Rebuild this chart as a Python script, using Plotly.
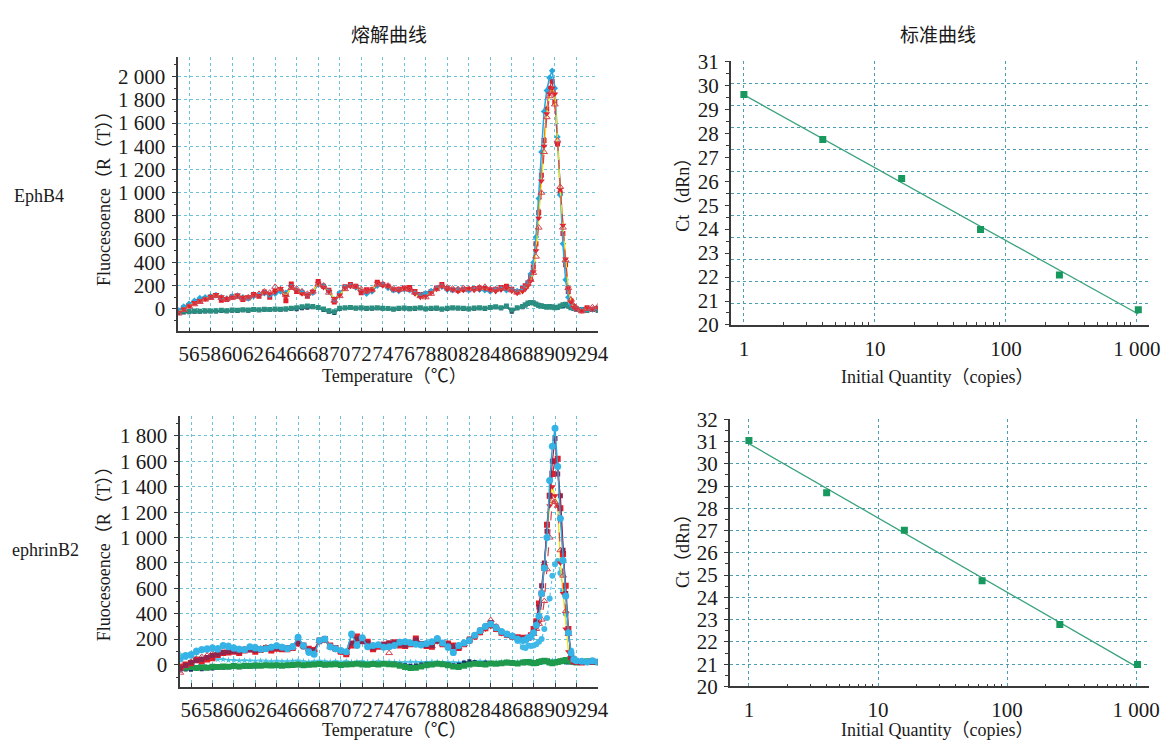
import numpy as np
import plotly.graph_objects as go

# ---------------- data ----------------
temps = [55.0, 55.5, 56.0, 56.5, 57.0, 57.5, 58.0, 58.5, 59.0, 59.5,
         60.0, 60.5, 61.0, 61.5, 62.0, 62.5, 63.0, 63.5, 64.0, 64.5,
         65.0, 65.5, 66.0, 66.5, 67.0, 67.5, 68.0, 68.5, 69.0, 69.5,
         70.0, 70.5, 71.0, 71.5, 72.0, 72.5, 73.0, 73.5, 74.0, 74.5,
         75.0, 75.5, 76.0, 76.5, 77.0, 77.5, 78.0, 78.5, 79.0, 79.5,
         80.0, 80.5, 81.0, 81.5, 82.0, 82.5, 83.0, 83.5, 84.0, 84.5,
         85.0, 85.5, 86.0, 86.5, 87.0,
         87.25, 87.5, 87.75, 88.0, 88.25, 88.5, 88.75, 89.0, 89.25, 89.5,
         89.75, 90.0, 90.25, 90.5, 90.75, 91.0, 91.25, 91.5, 91.75, 92.0,
         92.5, 93.0, 93.5, 94.0]

# EphB4 melting curves
eph_red_sq = [-20, 10, 30, 50, 75, 90, 100, 115, 75, 80,
              105, 110, 80, 95, 125, 110, 145, 100, 150, 160,
              70, 215, 150, 140, 110, 145, 235, 195, 160, 60,
              130, 190, 210, 195, 140, 165, 165, 230, 210, 195,
              165, 170, 180, 185, 150, 125, 130, 150, 180, 210,
              175, 165, 160, 170, 165, 175, 180, 175, 165, 170,
              185, 195, 170, 150, 175,
              200, 225, 280, 360, 560, 830, 1150, 1450, 1720, 1900,
              1960, 1780, 1420, 1000, 650, 380, 150, 70, 20, 0,
              -15, 10, -5, 5]
eph_cyan = [-10, 20, 45, 70, 95, 100, 110, 120, 100, 90,
            110, 115, 100, 90, 110, 120, 135, 120, 130, 150,
            140, 190, 160, 150, 120, 140, 210, 200, 150, 80,
            140, 185, 200, 185, 150, 130, 150, 200, 205, 180,
            160, 155, 170, 160, 135, 120, 135, 155, 175, 190,
            165, 160, 170, 165, 160, 170, 165, 160, 150, 170,
            170, 160, 165, 155, 170,
            190, 230, 300, 400, 620, 950, 1350, 1700, 1880, 1990,
            2050, 1900, 1480, 980, 560, 250, 100, 40, 10, 0,
            -10, 0, -5, 5]
eph_red_tri = [-40, -10, 20, 40, 60, 80, 95, 110, 95, 85,
               95, 105, 90, 100, 115, 130, 150, 140, 190, 170,
               120, 180, 175, 150, 130, 150, 210, 200, 140, 70,
               110, 170, 200, 190, 170, 150, 165, 210, 215, 200,
               175, 165, 170, 165, 140, 110, 100, 130, 170, 200,
               185, 175, 170, 180, 175, 170, 185, 190, 170, 165,
               180, 175, 160, 140, 170,
               190, 215, 250, 310, 450, 700, 1000, 1350, 1650, 1830,
               1880, 1760, 1450, 1050, 700, 420, 180, 80, 30, 10,
               -20, 0, 15, 20]
eph_yellow = [-30, 0, 25, 55, 70, 85, 110, 125, 105, 90,
              100, 120, 100, 105, 120, 115, 140, 130, 145, 175,
              110, 190, 155, 130, 120, 150, 220, 185, 150, 90,
              120, 180, 195, 190, 145, 150, 160, 220, 200, 190,
              170, 160, 175, 170, 130, 100, 110, 140, 170, 195,
              170, 165, 150, 160, 175, 160, 170, 175, 160, 150,
              165, 180, 155, 135, 150,
              170, 200, 240, 320, 500, 780, 1100, 1400, 1680, 1850,
              1900, 1850, 1420, 1030, 720, 430, 180, 60, 15, 0,
              -15, 5, 0, 10]
eph_ntc_navy = [-35, -30, -28, -25, -25, -22, -20, -22, -18, -20,
                -15, -18, -12, -15, -10, -12, -8, -10, -5, -8,
                -5, 0, -3, 5, 10, 15, 8, -10, -25, -35,
                0, 5, 8, 3, 5, 0, 2, 5, 3, 0,
                -5, 0, 3, -2, 0, 5, -3, 0, 2, -5,
                0, 5, 3, 0, -3, 2, 5, 0, 10, 15,
                5, 20, -25, 5, 15,
                30, 45, 50, 55, 45, 35, 30, 25, 20, 15,
                20, 15, 10, 20, 25, 30, 20, 10, 0, -5,
                -10, -15, -10, -15]
eph_ntc_teal = [-25, -20, -22, -18, -20, -15, -18, -15, -12, -15,
                -10, -12, -8, -10, -5, -8, -3, -5, 0, -3,
                2, 5, 10, 18, 25, 20, 12, 0, -15, -25,
                5, 10, 12, 8, 10, 5, 8, 10, 5, 3,
                0, 5, 8, 3, 5, 10, 2, 5, 8, 0,
                5, 10, 8, 5, 2, 8, 10, 5, 12, 18,
                10, 25, -10, 10, 20,
                35, 50, 55, 50, 40, 30, 25, 20, 15, 20,
                15, 10, 15, 25, 35, 40, 25, 10, 5, 0,
                -5, -10, -5, -10]

# ephrinB2 melting curves
efn_red_sq = [-15, 0, 10, 35, 25, 40, 50, 75, 90, 95,
              100, 90, 110, 120, 100, 115, 130, 110, 125, 120,
              120, 130, 165, 150, 125, 115, 190, 200, 150, 130,
              100, 80, 150, 220, 195, 180, 120, 140, 155, 165,
              175, 150, 145, 160, 205, 160, 145, 140, 190, 160,
              165, 150, 130, 160, 190, 220, 255, 285, 310, 280,
              250, 235, 220, 215, 210,
              205, 210, 230, 280, 340, 480, 560, 760, 1100, 1330,
              1500, 1600, 1620, 1230, 870, 620, 280, 60, 25, 20,
              15, 20, 25, 20]
efn_maroon = [-30, -5, 15, 30, 40, 55, 70, 80, 95, 100,
              105, 100, 120, 115, 110, 125, 120, 125, 130, 125,
              130, 140, 170, 140, 115, 110, 180, 195, 140, 120,
              105, 95, 170, 200, 180, 170, 130, 150, 160, 170,
              170, 160, 150, 165, 195, 165, 150, 150, 185, 165,
              160, 140, 140, 165, 200, 230, 270, 300, 330, 295,
              255, 240, 225, 210, 200,
              200, 205, 225, 260, 330, 450, 620, 800, 1050, 1330,
              1600, 1780, 1500, 1330, 900, 560, 250, 60, 30, 20,
              20, 15, 20, 15]
efn_yellow = [-20, 5, 20, 40, 50, 60, 75, 85, 100, 105,
              110, 100, 115, 125, 110, 120, 125, 115, 130, 125,
              125, 135, 160, 145, 120, 110, 185, 190, 145, 125,
              95, 85, 160, 210, 190, 175, 125, 145, 150, 160,
              170, 155, 150, 160, 195, 160, 145, 145, 180, 160,
              160, 145, 135, 160, 185, 215, 250, 280, 300, 275,
              245, 230, 215, 205, 200,
              200, 200, 215, 250, 290, 330, 560, 780, 1000, 1250,
              1400, 1330, 1250, 800, 560, 280, 100, 40, 25, 20,
              20, 15, 20, 15]
efn_red_tri = [-65, -10, 20, 45, 60, 70, 90, 95, 105, 110,
               115, 105, 120, 130, 115, 125, 135, 120, 130, 130,
               130, 135, 170, 145, 120, 115, 185, 190, 140, 120,
               100, 90, 160, 215, 185, 175, 125, 140, 150, 90,
               165, 155, 150, 160, 200, 160, 145, 145, 185, 160,
               160, 145, 135, 160, 195, 230, 265, 300, 350, 300,
               260, 240, 225, 210, 205,
               200, 205, 215, 240, 280, 320, 354, 500, 750, 1000,
               1290, 1280, 1250, 900, 700, 420, 240, 72, 30, 20,
               20, 15, 20, 15]
efn_cyan = [50, 70, 76, 100, 116, 125, 129, 120, 150, 140,
            129, 120, 116, 140, 130, 120, 125, 135, 147, 135,
            125, 140, 215, 150, 100, 80, 190, 200, 140, 125,
            110, 100, 240, 150, 210, 140, 150, 155, 135, 140,
            150, 175, 180, 170, 160, 155, 165, 180, 205, 170,
            140, 95, 150, 170, 190, 230, 265, 300, 320, 290,
            260, 240, 225, 200, 190,
            195, 210, 220, 250, 310, 380, 560, 760, 1000, 1450,
            1720, 1860, 1560, 1150, 820, 540, 250, 90, 40, 30,
            25, 20, 30, 20]
efn_cyan_late = [40, 60, 80, 110, 120, 115, 135, 130, 145, 150,
                 135, 125, 120, 135, 140, 125, 130, 140, 150, 140,
                 130, 145, 210, 140, 90, 85, 185, 195, 135, 120,
                 105, 95, 230, 160, 200, 145, 140, 150, 140, 135,
                 155, 180, 175, 165, 165, 150, 160, 175, 200, 165,
                 130, 90, 145, 165, 185, 225, 270, 305, 320, 280,
                 250, 230, 215, 185, 135,
                 130, 150, 145, 150, 160, 180, 200, 280, 367, 520,
                 700, 790, 815, 720, 580, 400, 251, 110, 50, 30,
                 25, 20, 25, 20]
efn_ntc_green = [-20, -25, -20, -28, -22, -25, -18, -20, -15, -18,
                 -12, -15, -10, -12, -8, -10, -5, -8, -5, -10,
                 -5, -3, 0, -5, -2, 0, 3, -2, 0, 2,
                 -3, 0, 2, 5, 0, -2, 3, 0, 5, 2,
                 0, -10, -20, -28, -25, -15, -5, 0, 5, 2,
                 -5, -15, -20, -10, 0, 5, 3, 0, 8, 5,
                 10, 15, 12, 8, 15,
                 18, 20, 15, 10, 12, 20, 25, 30, 25, 15,
                 10, 15, 20, 25, 30, 35, 30, 25, 20, 15,
                 20, 25, 20, 18]
efn_ntc_navy = [-45, -40, -42, -35, -38, -30, -32, -28, -25, -22,
                -20, -22, -18, -15, -16, -12, -10, -12, -8, -10,
                -8, -5, -6, -3, -5, 0, -2, -5, -3, 0,
                -2, 2, 0, 3, 5, 2, 0, 3, 5, 3,
                5, 0, -5, -10, -8, 0, 5, 3, 8, 5,
                2, -5, 0, 15, 25, 20, 10, 15, 10, 5,
                8, 10, 5, 10, 12,
                15, 12, 10, 8, 10, 15, 20, 25, 20, 18,
                15, 20, 25, 30, 25, 20, 15, 20, 25, 20,
                15, 20, 25, 15]
efn_ntc_cyan = [80, 70, 60, 55, 50, 45, 45, 40, 40, 35,
                35, 30, 32, 30, 28, 30, 28, 25, 28, 25,
                25, 28, 30, 25, 22, 25, 28, 25, 22, 25,
                22, 25, 20, 22, 25, 20, 22, 25, 20, 22,
                20, 18, 20, 22, 20, 18, 20, 22, 20, 18,
                20, 18, 15, 18, 20, 22, 25, 22, 20, 18,
                20, 22, 18, 20, 22,
                20, 22, 25, 20, 22, 25, 20, 22, 25, 28,
                30, 25, 22, 25, 28, 30, 28, 25, 22, 20,
                22, 25, 22, 20]

# standard curves
quantity = [1, 4, 16, 64, 256, 1024]
eph_ct = [29.62, 27.74, 26.11, 23.98, 22.08, 20.64]
efn_ct = [31.05, 28.70, 27.02, 24.75, 22.78, 20.99]

temp_ticks = [56, 58, 60, 62, 64, 66, 68, 70, 72, 74, 76, 78, 80, 82, 84, 86, 88, 90, 92, 94]
eph_fluo_ticks = [0, 200, 400, 600, 800, 1000, 1200, 1400, 1600, 1800, 2000]
efn_fluo_ticks = [0, 200, 400, 600, 800, 1000, 1200, 1400, 1600, 1800]
fluo_labels = {0: "0", 200: "200", 400: "400", 600: "600", 800: "800", 1000: "1 000",
               1200: "1 200", 1400: "1 400", 1600: "1 600", 1800: "1 800", 2000: "2 000"}
qty_ticks = [1, 10, 100, 1000]
qty_labels = ["1", "10", "100", "1 000"]

# ---------------- styling ----------------
W, H = 1175, 751
SERIF = "Liberation Serif, Noto Sans CJK SC, serif"
CJK = "Noto Sans CJK SC, Noto Sans CJK JP, sans-serif"
GRID = "#6cc2d8"
GRID2 = "#4a9db3"
AX = "#3a3a3a"
TXT = "#1a1a1a"


def hx(p):
    return p / W


def vy(p):
    return 1 - p / H


fig = go.Figure()

top_series = [
    (eph_ntc_navy, dict(color="#1e3b5c", width=1.4), dict(symbol="square", size=4, color="#1e3b5c")),
    (eph_ntc_teal, dict(color="#2a8f80", width=1.4), dict(symbol="square", size=5, color="#2a8f80")),
    (eph_red_sq, dict(color="#e11f2b", width=1.1), dict(symbol="square", size=5, color="#e11f2b")),
    (eph_cyan, dict(color="#27a7de", width=1.5), dict(symbol="diamond", size=5, color="#27a7de")),
    (eph_yellow, dict(color="#efe21a", width=1.3), dict(symbol="triangle-down", size=6, color="#e2202a")),
    (eph_red_tri, dict(color="#d3434f", width=1.2, dash="dash"), dict(symbol="triangle-up-open", size=6, color="#d3434f")),
]
for vals, ln, mk in top_series:
    assert len(vals) == len(temps)
    fig.add_trace(go.Scatter(x=temps, y=vals, mode="lines+markers", line=ln, marker=mk,
                             xaxis="x", yaxis="y", showlegend=False, hoverinfo="skip"))

bottom_series = [
    (efn_ntc_cyan, dict(color="#46c1e8", width=1.2), dict(symbol="star", size=5, color="#46c1e8")),
    (efn_ntc_navy, dict(color="#1c2d6b", width=1.4), dict(symbol="square", size=4, color="#1c2d6b")),
    (efn_ntc_green, dict(color="#1f9a4c", width=1.8), dict(symbol="square", size=6, color="#1f9a4c")),
    (efn_cyan_late, dict(color="#49bfe8", width=1.1, dash="dot"), dict(symbol="circle", size=6, color="#40b9e8")),
    (efn_yellow, dict(color="#efe21a", width=1.3), dict(symbol="triangle-down", size=6, color="#e2202a")),
    (efn_red_tri, dict(color="#d3434f", width=1.2, dash="dash"), dict(symbol="triangle-up-open", size=6, color="#d3434f")),
    (efn_red_sq, dict(color="#e11f2b", width=1.4), dict(symbol="square", size=6, color="#e11f2b")),
    (efn_maroon, dict(color="#8f2650", width=1.2), dict(symbol="square", size=5, color="#8f2650")),
    (efn_cyan, dict(color="#2aa9e0", width=1.4), dict(symbol="circle", size=7, color="#35b3e6")),
]
for vals, ln, mk in bottom_series:
    assert len(vals) == len(temps)
    fig.add_trace(go.Scatter(x=temps, y=vals, mode="lines+markers", line=ln, marker=mk,
                             xaxis="x2", yaxis="y2", showlegend=False, hoverinfo="skip"))

# standard curves
for ct, xa, ya in [(eph_ct, "x3", "y3"), (efn_ct, "x4", "y4")]:
    lq = np.log10(quantity)
    slope, icpt = np.polyfit(lq, ct, 1)
    xs = [quantity[0], quantity[-1]]
    ys = [icpt + slope * np.log10(v) for v in xs]
    fig.add_trace(go.Scatter(x=xs, y=ys, mode="lines", line=dict(color="#3aa37c", width=1.3),
                             xaxis=xa, yaxis=ya, showlegend=False, hoverinfo="skip"))
    fig.add_trace(go.Scatter(x=quantity, y=ct, mode="markers",
                             marker=dict(symbol="square", size=7, color="#17985e"),
                             xaxis=xa, yaxis=ya, showlegend=False, hoverinfo="skip"))

# empty trace to activate grid overlay axis of the top standard curve
fig.add_trace(go.Scatter(x=[], y=[], xaxis="x3", yaxis="y5", showlegend=False, hoverinfo="skip"))

tickfont = dict(family=SERIF, size=21, color=TXT)

melt_x = dict(range=[55, 94], tickmode="array", tickvals=temp_ticks, ticktext=[str(t) for t in temp_ticks],
              tickangle=0,
              showline=True, linecolor=AX, linewidth=1.5, ticks="inside", ticklen=4, tickcolor=AX,
              showgrid=True, gridcolor=GRID, griddash="dot", gridwidth=1, zeroline=False,
              tickfont=tickfont, ticklabelstandoff=3)


def melt_y(rng, tv, dom, anchor):
    return dict(range=rng, domain=dom, anchor=anchor, tickmode="array", tickvals=tv,
                ticktext=[fluo_labels[v] for v in tv], showline=True, linecolor=AX, linewidth=1.5,
                ticks="outside", ticklen=5, tickcolor=AX,
                minor=dict(tickvals=list(range(-100, rng[1], 100)), ticks="outside", ticklen=3, tickcolor=AX),
                showgrid=True, gridcolor=GRID, griddash="dot", gridwidth=1, zeroline=False,
                tickfont=tickfont, ticklabelstandoff=2)


def std_x(rng, dom, anchor):
    return dict(type="log", range=rng, domain=dom, anchor=anchor, tickmode="array",
                tickvals=qty_ticks, ticktext=qty_labels, showline=True, linecolor=AX, linewidth=1.5,
                ticks="", showgrid=True, gridcolor=GRID2, griddash="dot", gridwidth=1, zeroline=False,
                minor=dict(tickvals=[2, 3, 4, 5, 6, 7, 8, 9, 20, 30, 40, 50, 60, 70, 80, 90,
                                     200, 300, 400, 500, 600, 700, 800, 900],
                           ticks="inside", ticklen=3, tickcolor=AX, showgrid=False),
                tickfont=tickfont, ticklabelstandoff=4)


def std_y(rng, dom, anchor, grid):
    return dict(range=rng, domain=dom, anchor=anchor, tickmode="linear", tick0=20, dtick=1,
                showline=True, linecolor=AX, linewidth=1.5, ticks="outside", ticklen=4, tickcolor=AX,
                minor=dict(dtick=0.5, tick0=20, ticks="outside", ticklen=3, tickcolor=AX),
                showgrid=grid, gridcolor=GRID2, griddash="dot", gridwidth=1, zeroline=False,
                tickfont=tickfont, ticklabelstandoff=2)


fig.update_layout(
    width=W, height=H, autosize=False,
    margin=dict(l=0, r=0, t=0, b=0),
    paper_bgcolor="white", plot_bgcolor="white",
    xaxis=dict(melt_x, domain=[hx(180), hx(603.5)], anchor="y"),
    yaxis=melt_y([-194, 2164], eph_fluo_ticks, [vy(330), vy(47)], "x"),
    xaxis2=dict(melt_x, domain=[hx(182), hx(603.5)], anchor="y2"),
    yaxis2=melt_y([-175, 1960], efn_fluo_ticks, [vy(697), vy(417)], "x2"),
    xaxis3=std_x([-0.1, 3.093], [hx(737.7), hx(1160)], "y3"),
    yaxis3=std_y([20, 31], [vy(323.3), vy(51)], "x3", False),
    yaxis5=dict(range=[0, 12], overlaying="y3", anchor="x3", tickmode="linear", tick0=0, dtick=1,
                showgrid=True, gridcolor=GRID2, griddash="dot", gridwidth=1, showline=False,
                showticklabels=False, ticks="", zeroline=False),
    xaxis4=std_x([-0.148, 3.10], [hx(736.7), hx(1160)], "y4"),
    yaxis4=std_y([20, 32], [vy(696.7), vy(420.7)], "x4", True),
)

ann = []


def text(x, y, s, size, family=SERIF, angle=0, xanchor="center"):
    ann.append(dict(x=hx(x), y=vy(y), xref="paper", yref="paper", text=s, showarrow=False,
                    font=dict(family=family, size=size, color=TXT), textangle=angle,
                    xanchor=xanchor, yanchor="middle"))


text(393, 22, "熔解曲线", 19, family=CJK)
text(947, 22, "标准曲线", 19, family=CJK)
text(12, 190, "EphB4", 18, xanchor="left")
text(10, 556, "ephrinB2", 18, xanchor="left")
text(398, 376, "Temperature（℃）", 18)
text(398, 742, "Temperature（℃）", 18)
text(946, 377, "Initial Quantity（copies）", 18)
text(946, 742, "Initial Quantity（copies）", 18)
text(105, 188, "Fluocesoence（R（T））", 18, angle=-90)
text(105, 555, "Fluocesoence（R（T））", 18, angle=-90)
text(690, 184, "Ct（dRn）", 18, angle=-90)
text(690, 552, "Ct（dRn）", 18, angle=-90)
fig.update_layout(annotations=ann)

fig.write_html("out.html", config={"displayModeBar": False},
               post_script="document.body.style.margin='0';document.body.style.padding='0';"
                           "document.documentElement.style.overflow='hidden';")
